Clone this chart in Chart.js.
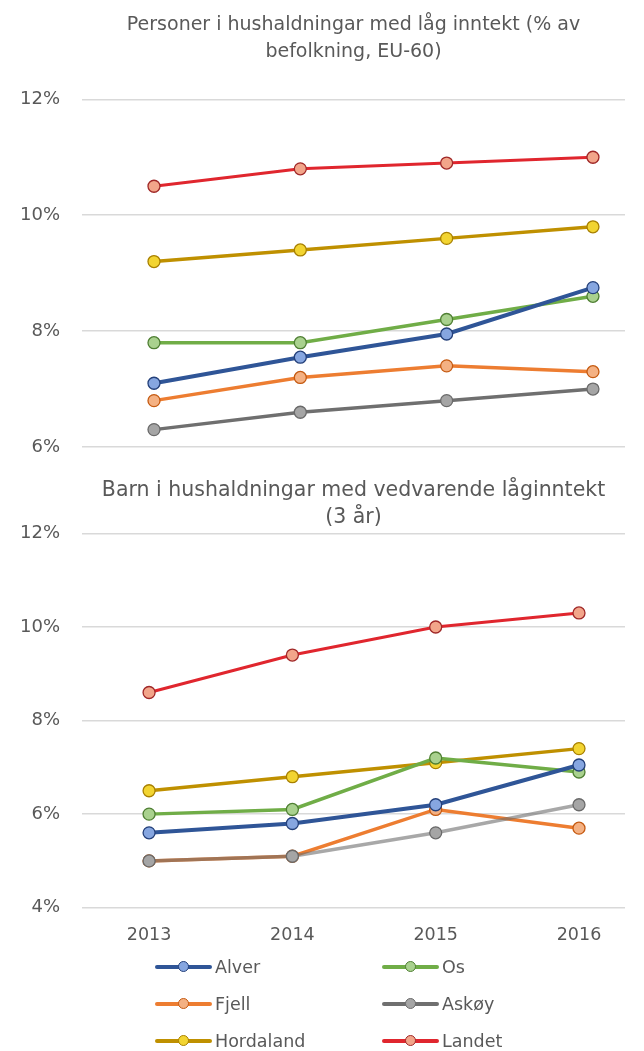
<!DOCTYPE html>
<html>
<head>
<meta charset="utf-8">
<script src="https://cdn.jsdelivr.net/npm/chart.js@4/dist/chart.umd.min.js"></script>
<style>
  html, body { margin: 0; padding: 0; background: #ffffff; width: 644px; height: 1051px; overflow: hidden; }
  .wrap { position: absolute; left: 0; width: 644px; }
  .leg { position: absolute; font-family: 'DejaVu Sans', sans-serif; font-size: 17.5px; color: #595959; height: 24px; line-height: 24px; white-space: nowrap; }
  .leg .ln { position: absolute; left: 0; top: 10px; width: 57px; height: 4px; border-radius: 2px; }
  .leg .dot { position: absolute; left: 23px; top: 6px; width: 9px; height: 9px; border-radius: 50%; border: 1.5px solid; }
  .leg .tx { position: absolute; left: 60px; top: 0; }
</style>
</head>
<body>
<div class="wrap" style="top:0;height:460px"><canvas id="c1" width="644" height="460"></canvas></div>
<div class="wrap" style="top:460px;height:505px"><canvas id="c2" width="644" height="505"></canvas></div>
<div id="legend"></div>
<script>
// ---- data ----
const categories = ['2013', '2014', '2015', '2016'];
const years = [2013, 2014, 2015, 2016];
const seriesNames = ['Alver', 'Os', 'Fjell', 'Askøy', 'Hordaland', 'Landet'];

const titleTop = ['Personer i hushaldningar med låg inntekt (% av', 'befolkning, EU-60)'];
const titleBottom = ['Barn i hushaldningar med vedvarende låginntekt', '(3 år)'];

// Personer i hushaldningar med låg inntekt (%)
const lowAlver     = [7.1, 7.55, 7.95, 8.75];
const lowOs        = [7.8, 7.8, 8.2, 8.6];
const lowFjell     = [6.8, 7.2, 7.4, 7.3];
const lowAskoy     = [6.3, 6.6, 6.8, 7.0];
const lowHordaland = [9.2, 9.4, 9.6, 9.8];
const lowLandet    = [10.5, 10.8, 10.9, 11.0];

// Barn i hushaldningar med vedvarende låginntekt (%)
const childAlver     = [5.6, 5.8, 6.2, 7.05];
const childOs        = [6.0, 6.1, 7.2, 6.9];
const childFjell     = [5.0, 5.1, 6.1, 5.7];
const childAskoy     = [5.0, 5.1, 5.6, 6.2];
const childHordaland = [6.5, 6.8, 7.1, 7.4];
const childLandet    = [8.6, 9.4, 10.0, 10.3];

const yTicksTop = [6, 8, 10, 12];
const yTicksBottom = [4, 6, 8, 10, 12];

// ---- styles ----
const lineColors   = ['#2f5597', '#70ad47', '#ed7d31', '#6f6f6f', '#bf9000', '#e0262e'];
const pointFills   = ['#86a6e0', '#a9d18e', '#f4b183', '#a5a5a5', '#f2d431', '#f2a58a'];
const pointBorders = ['#24407a', '#4f7f33', '#c55a11', '#6a6a6a', '#a88000', '#a02828'];
const lineWidths   = [4, 3.5, 3.5, 3.5, 3.5, 3];

const FONT = '"DejaVu Sans", sans-serif';
const TXT = '#595959';

function makeDatasets(seriesValues, overrides) {
  return seriesValues.map((vals, i) => Object.assign({
    label: seriesNames[i],
    data: vals.map((v, k) => ({ x: years[k], y: v })),
    borderColor: lineColors[i],
    backgroundColor: lineColors[i],
    borderWidth: lineWidths[i],
    pointRadius: 6,
    pointHoverRadius: 6,
    pointBorderWidth: 1.3,
    pointBackgroundColor: pointFills[i],
    pointBorderColor: pointBorders[i],
    tension: 0,
    fill: false
  }, (overrides && overrides[i]) || {}));
}

function makeOptions(title, titleSize, titlePad, yMin, yMax, yTicks, xMin, xMax, showX, bottomPad) {
  return {
    responsive: false,
    animation: false,
    layout: { padding: { left: 0, right: 19, top: 0, bottom: bottomPad } },
    plugins: {
      legend: { display: false },
      tooltip: { enabled: false },
      title: {
        display: true,
        text: title,
        color: TXT,
        fullSize: false,
        font: { family: FONT, size: titleSize, weight: 'normal', lineHeight: 27 / titleSize },
        padding: titlePad
      }
    },
    scales: {
      x: {
        type: 'linear',
        display: showX,
        min: xMin,
        max: xMax,
        afterBuildTicks: s => { s.ticks = years.map(v => ({ value: v })); },
        ticks: {
          callback: v => categories[years.indexOf(v)],
          color: TXT,
          font: { family: FONT, size: 17.5 },
          padding: 17,
          maxRotation: 0,
          autoSkip: false
        },
        grid: { display: false, drawTicks: false },
        border: { display: false }
      },
      y: {
        min: yMin,
        max: yMax,
        afterFit: s => { s.width = 82; },
        afterBuildTicks: s => { s.ticks = yTicks.map(v => ({ value: v })); },
        ticks: {
          callback: v => v + '%',
          color: TXT,
          font: { family: FONT, size: 18 },
          padding: 0
        },
        grid: { color: '#d9d9d9', lineWidth: 1.5, drawTicks: true, tickLength: 22, tickColor: 'rgba(0,0,0,0)' },
        border: { display: false }
      }
    }
  };
}

new Chart(document.getElementById('c1'), {
  type: 'line',
  data: { datasets: makeDatasets([lowAlver, lowOs, lowFjell, lowAskoy, lowHordaland, lowLandet]) },
  options: makeOptions(titleTop, 19, { top: 11.5, bottom: 33.8 }, yTicksTop[0], yTicksTop[yTicksTop.length - 1], yTicksTop,
    2012.508, 2016.219, false, 13)
});

new Chart(document.getElementById('c2'), {
  type: 'line',
  data: { datasets: makeDatasets([childAlver, childOs, childFjell, childAskoy, childHordaland, childLandet],
    { 3: { borderColor: 'rgba(110,110,110,0.6)', order: -1 } }) },
  options: makeOptions(titleBottom, 20.5, { top: 17.5, bottom: 1.9 }, yTicksBottom[0], yTicksBottom[yTicksBottom.length - 1], yTicksBottom,
    2012.532, 2016.321, true, 2.3)
});

// ---- legend (HTML, 2 columns x 3 rows) ----
const legendCols = [155, 382];
const legendRows = [967, 1004, 1041];
const legendEl = document.getElementById('legend');
seriesNames.forEach((name, i) => {
  const item = document.createElement('div');
  item.className = 'leg';
  item.style.left = legendCols[i % 2] + 'px';
  item.style.top = (legendRows[Math.floor(i / 2)] - 12) + 'px';
  const ln = document.createElement('div');
  ln.className = 'ln';
  ln.style.background = lineColors[i];
  const dot = document.createElement('div');
  dot.className = 'dot';
  dot.style.background = pointFills[i];
  dot.style.borderColor = pointBorders[i];
  const tx = document.createElement('span');
  tx.className = 'tx';
  tx.textContent = name;
  item.appendChild(ln); item.appendChild(dot); item.appendChild(tx);
  legendEl.appendChild(item);
});
</script>
</body>
</html>
